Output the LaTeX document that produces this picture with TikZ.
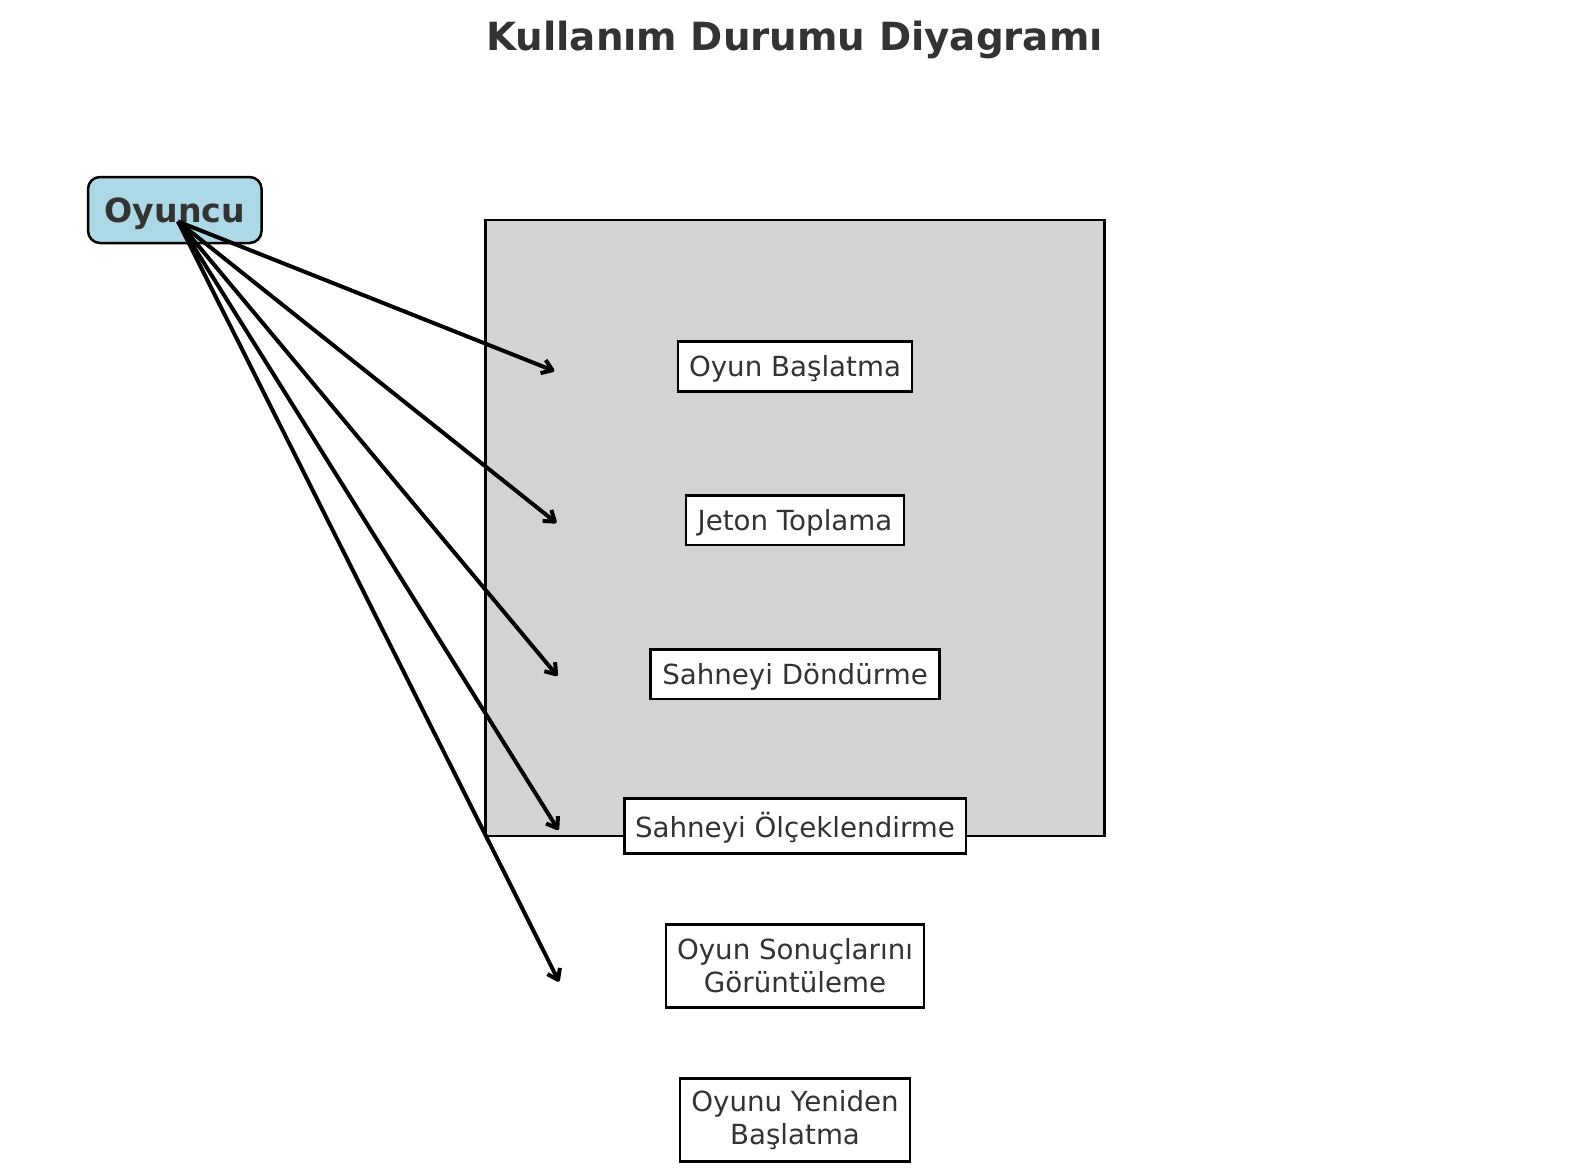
\documentclass[tikz,border=0pt]{standalone}
\usepackage{fontspec}
\setmainfont{DejaVu Sans}
\usetikzlibrary{arrows.meta}
\definecolor{txt}{HTML}{333333}
\definecolor{actorfill}{HTML}{ADD8E6}
\definecolor{sysfill}{HTML}{D3D3D3}
\tikzset{
  usecase/.style={draw=black, line width=2.5pt, fill=white, text=txt, inner sep=0pt,
    align=center, font=\fontsize{27.7}{33}\selectfont},
  oneline/.style={text height=25pt, text depth=5.6pt},
  actor/.style={draw=black, line width=2.5pt, fill=actorfill, rounded corners=12pt, text=txt,
    inner sep=0pt, text height=30pt, text depth=4.8pt, font=\fontsize{33.2}{40}\selectfont\bfseries},
  sysbox/.style={draw=black, line width=2.5pt, fill=sysfill, inner sep=0pt},
  assoc/.style={draw=black, line width=4pt, line join=round,
    -{Straight Barb[length=10pt,width=14pt,line join=round]}},
  titletext/.style={text=txt, font=\fontsize{38.8}{46}\selectfont\bfseries, inner sep=0pt}
}
\begin{document}
\begin{tikzpicture}[x=1pt,y=-1pt]
\useasboundingbox (0,0) rectangle (1589,1170);
\node[titletext] (title) at (794.5,40) {Kullanım Durumu Diyagramı};
\node[sysbox, minimum width=619.2pt, minimum height=616.2pt] (sys) at (795,528) {};
\node[actor, minimum width=173.5pt, minimum height=66pt] (actor) at (174.8,210) {Oyuncu};
\node[usecase, oneline, minimum width=234pt, minimum height=49.7pt] (u1) at (795,366.4) {Oyun Başlatma};
\node[usecase, oneline, minimum width=218pt, minimum height=49.6pt] (u2) at (795,520.4) {Jeton Toplama};
\node[usecase, oneline, minimum width=288.8pt, minimum height=49.6pt] (u3) at (795,674.4) {Sahneyi Döndürme};
\node[usecase, text height=28pt, text depth=5pt, minimum width=341.5pt, minimum height=54.7pt] (u4) at (795,826) {Sahneyi Ölçeklendirme};
\node[usecase, minimum width=258.4pt, minimum height=83.1pt] (u5) at (795,965.8) {Oyun Sonuçlarını\\Görüntüleme};
\node[usecase, minimum width=230pt, minimum height=83.1pt] (u6) at (795,1119.8) {Oyunu Yeniden\\Başlatma};
\coordinate (src) at (178,221.5);
\coordinate (e1) at (554.3,371);
\coordinate (e2) at (556.4,522.9);
\coordinate (e3) at (557.4,675.9);
\coordinate (e4) at (558.4,830);
\coordinate (e5) at (559,981.7);
\foreach \e in {e1,e2,e3,e4,e5} \draw[assoc] (src) -- (\e);
\end{tikzpicture}
\end{document}
